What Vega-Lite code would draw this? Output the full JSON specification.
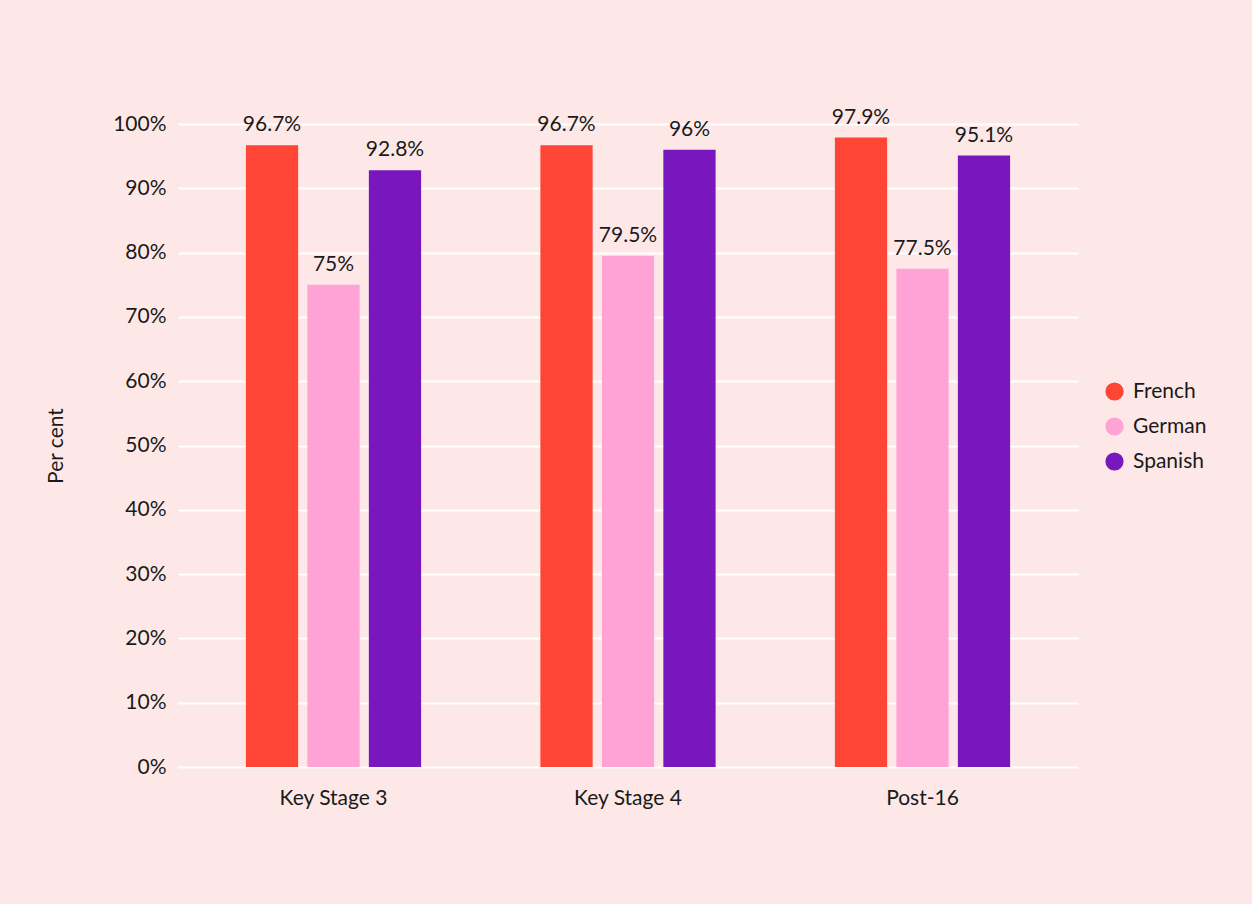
{
  "$schema": "https://vega.github.io/schema/vega-lite/v6.json",
  "width": 900,
  "height": 643,
  "autosize": {"type": "none"},
  "padding": {"left": 178, "top": 124, "right": 174, "bottom": 137},
  "background": "#FDE8E7",
  "data": {
    "values": [
      {"stage": "Key Stage 3", "language": "French", "value": 96.7},
      {"stage": "Key Stage 3", "language": "German", "value": 75},
      {"stage": "Key Stage 3", "language": "Spanish", "value": 92.8},
      {"stage": "Key Stage 4", "language": "French", "value": 96.7},
      {"stage": "Key Stage 4", "language": "German", "value": 79.5},
      {"stage": "Key Stage 4", "language": "Spanish", "value": 96},
      {"stage": "Post-16", "language": "French", "value": 97.9},
      {"stage": "Post-16", "language": "German", "value": 77.5},
      {"stage": "Post-16", "language": "Spanish", "value": 95.1}
    ]
  },
  "transform": [{"calculate": "datum.value + '%'", "as": "label"}],
  "encoding": {
    "x": {
      "field": "stage",
      "type": "nominal",
      "sort": null,
      "scale": {"paddingInner": 0.405, "paddingOuter": 0.2305},
      "axis": {"title": null, "labelAngle": 0, "ticks": false, "domain": false, "labelPadding": 20, "labelFontSize": 21, "labelColor": "#1a1a1a", "labelFont": "Lato"}
    },
    "xOffset": {"field": "language", "type": "nominal", "scale": {"paddingInner": 0.15, "paddingOuter": 0}},
    "y": {
      "field": "value",
      "type": "quantitative",
      "scale": {"domain": [0, 100], "nice": false},
      "axis": {
        "title": "Per cent",
        "titleFontSize": 21,
        "titleFontWeight": "normal",
        "titleFont": "Lato",
        "titleColor": "#1a1a1a",
        "titlePadding": 46,
        "values": [0, 10, 20, 30, 40, 50, 60, 70, 80, 90, 100],
        "labelExpr": "datum.value + '%'",
        "labelOverlap": false,
        "labelFontSize": 21,
        "labelFont": "Lato",
        "labelColor": "#1a1a1a",
        "labelPadding": 12,
        "ticks": false,
        "domain": false,
        "grid": true,
        "gridColor": "#ffffff",
        "gridWidth": 2
      }
    }
  },
  "layer": [
    {
      "mark": {"type": "bar"},
      "encoding": {
        "color": {
          "field": "language",
          "type": "nominal",
          "scale": {"domain": ["French", "German", "Spanish"], "range": ["#FF4535", "#FFA3D6", "#7817BD"]},
          "legend": {
            "title": null,
            "orient": "none",
            "legendX": 926,
            "legendY": 257,
            "symbolType": "circle",
            "symbolSize": 330,
            "symbolStrokeWidth": 0,
            "labelFontSize": 21,
            "labelFont": "Lato",
            "labelColor": "#1a1a1a",
            "labelOffset": 8,
            "rowPadding": 13
          }
        }
      }
    },
    {
      "mark": {"type": "text", "baseline": "alphabetic", "dy": -14, "fontSize": 21, "font": "Lato", "color": "#1a1a1a"},
      "encoding": {
        "text": {"field": "label", "type": "nominal"},
        "detail": {"field": "language"}
      }
    }
  ],
  "config": {
    "view": {"stroke": null},
    "axis": {"labelFontWeight": "normal"}
  }
}
